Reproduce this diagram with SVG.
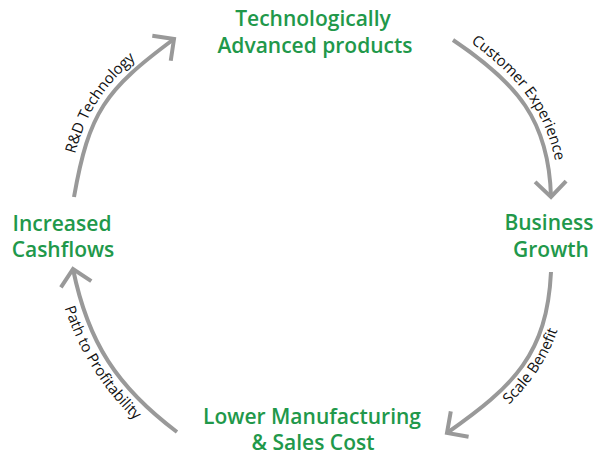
<svg xmlns="http://www.w3.org/2000/svg" width="596" height="455" viewBox="0 0 596 455">
  <style>
    .title { font-family: "Open Sans", "Liberation Sans", sans-serif; font-weight: 600; font-size: 21px; fill: #21984a; text-anchor: middle; }
    .conn { fill: none; stroke: #999999; stroke-width: 4; marker-end: url(#head); }
    .lbl { font-family: "Open Sans", "Liberation Sans", sans-serif; font-size: 15px; fill: #111111; text-anchor: middle; }
  </style>
  <defs>
    <marker id="head" viewBox="-20 -20 40 40" refX="0" refY="0" markerWidth="40" markerHeight="40" markerUnits="userSpaceOnUse" orient="auto" overflow="visible">
      <path d="M-15.5,-15.5 L0,0 L-15.5,15.5" fill="none" stroke="#999999" stroke-width="4"/>
    </marker>
    <path id="t1" d="M66.1,195.6 C81.1,110.6 100.25,83.6 169.25,32.6"/>
    <path id="t2" d="M457.5,33.4 C521.5,76.4 557,119.8 559,196.8"/>
    <path id="t3" d="M456.8,446.9 C523.8,399.9 564,354.8 568,272.8"/>
    <path id="t4" d="M55.4,272.6 C70.4,346.1 106.2,401.4 166.2,446.4"/>
  </defs>

  <g id="connectors">
    <path class="conn" d="M74,197 C89,112 105,90 174,39"/>
    <path class="conn" d="M453,40 C517,83 549,120 551,197"/>
    <path class="conn" d="M551,272 C547,354 514,386 447,433"/>
    <path class="conn" d="M177,432 C117,387 88,342.5 73,269"/>
    <text class="lbl"><textPath href="#t1" startOffset="50%">R&amp;D Technology</textPath></text>
    <text class="lbl"><textPath href="#t2" startOffset="45%">Customer Experience</textPath></text>
    <text class="lbl"><textPath href="#t3" startOffset="52%">Scale Benefit</textPath></text>
    <text class="lbl"><textPath href="#t4" startOffset="49%">Path to Profitability</textPath></text>
  </g>

  <g id="node-tech">
    <text class="title" x="313" y="26">Technologically</text>
    <text class="title" x="315" y="53">Advanced products</text>
  </g>
  <g id="node-growth">
    <text class="title" x="549" y="230">Business</text>
    <text class="title" x="551" y="257">Growth</text>
  </g>
  <g id="node-cost">
    <text class="title" x="312" y="424">Lower Manufacturing</text>
    <text class="title" x="313" y="450">&amp; Sales Cost</text>
  </g>
  <g id="node-cash">
    <text class="title" x="62" y="231">Increased</text>
    <text class="title" x="63" y="257">Cashflows</text>
  </g>
</svg>
